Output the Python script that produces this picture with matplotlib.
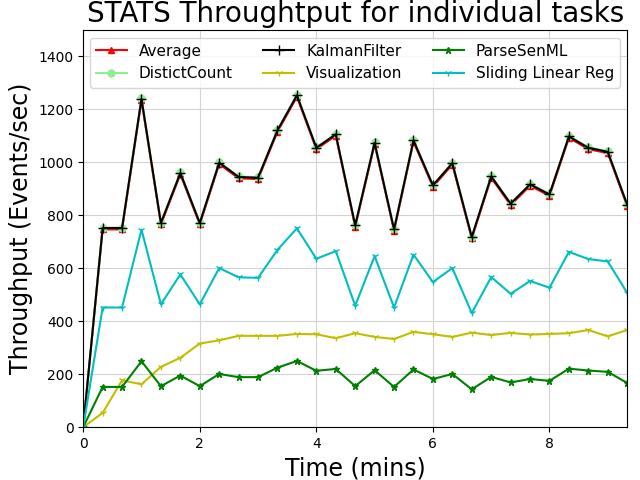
import matplotlib
matplotlib.use("Agg")
import matplotlib.pyplot as plt
import numpy as np

time_mins = [i / 3 for i in range(29)]
kalman = [0, 752, 752, 1240, 771, 960, 771, 999, 945, 942, 1121, 1253, 1055, 1106, 762,
          1074, 747, 1083, 913, 997, 718, 947, 844, 917, 879, 1098, 1055, 1040, 840]
average = [0, 747, 747, 1235, 766, 955, 766, 994, 940, 937, 1116, 1248, 1050, 1101, 757,
           1069, 742, 1078, 908, 992, 713, 942, 839, 912, 874, 1093, 1050, 1035, 835]
distinct = [0, 754, 754, 1242, 773, 962, 773, 1001, 947, 944, 1123, 1255, 1057, 1108, 764,
            1076, 749, 1085, 915, 999, 720, 949, 846, 919, 881, 1100, 1057, 1042, 842]
visualization = [0, 54, 177, 162, 228, 262, 316, 328, 345, 345, 345, 352, 351, 336, 355,
                 341, 333, 360, 351, 341, 357, 348, 356, 350, 352, 355, 367, 343, 367]
parsesenml = [0, 152, 152, 249, 155, 195, 155, 201, 189, 189, 225, 250, 213, 220, 155,
              215, 152, 218, 182, 201, 143, 190, 169, 182, 175, 221, 214, 209, 167]
sliding = [0, 452, 452, 746, 464, 577, 464, 601, 566, 564, 670, 751, 636, 665, 459,
           646, 452, 652, 548, 601, 431, 567, 504, 552, 527, 662, 635, 626, 507]

fig, ax = plt.subplots(figsize=(6.4, 4.8), dpi=100)
fig.subplots_adjust(left=0.13, right=0.98, bottom=0.11, top=0.9375)

ms = 5
ax.plot(time_mins, average, color='red', marker='^', ms=ms, lw=1.5, label='Average')
ax.plot(time_mins, distinct, color='lightgreen', marker='o', ms=ms, lw=1.5, label='DistictCount')
ax.plot(time_mins, kalman, color='black', marker='+', ms=7, lw=1.5, label='KalmanFilter')
ax.plot(time_mins, visualization, color='y', marker='1', ms=ms, lw=1.5, label='Visualization')
ax.plot(time_mins, parsesenml, color='green', marker='*', ms=ms, lw=1.5, label='ParseSenML')
ax.plot(time_mins, sliding, color='c', marker='1', ms=ms, lw=1.5, label='Sliding Linear Reg')

ax.set_xlim(0, time_mins[-1])
ax.set_ylim(0, 1500)
ax.set_yticks(range(0, 1401, 200))
ax.set_xticks([0, 2, 4, 6, 8])
ax.grid(True, color='#d3d3d3')
ax.set_title('STATS Throughtput for individual tasks', fontsize=20)
ax.set_xlabel('Time (mins)', fontsize=17)
ax.set_ylabel('Throughput (Events/sec)', fontsize=17)
ax.legend(ncol=3, loc='upper center', fontsize=11)

fig.savefig('out.png')
